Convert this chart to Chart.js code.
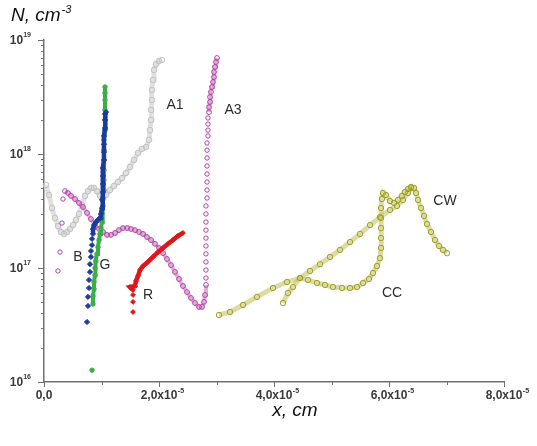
<!DOCTYPE html>
<html><head><meta charset="utf-8">
<script src="https://cdn.jsdelivr.net/npm/chart.js@4/dist/chart.umd.min.js"></script>
<style>html,body{margin:0;padding:0;background:#fff}canvas{display:block}</style>
</head><body>
<canvas id="c" width="537" height="446"></canvas>
<script>
// x values in units of 1e-5 cm, N in cm^-3
const X_TICKS = [0, 2, 4, 6, 8];
const X_TICK_LABELS = ['0,0', '2,0x10', '4,0x10', '6,0x10', '8,0x10'];
const X_TICK_SUP = ['', '-5', '-5', '-5', '-5'];
const Y_TICKS = [1e16, 1e17, 1e18, 1e19];
const Y_TICK_SUP = ['16', '17', '18', '19'];

const SERIES_LABELS = ['A1', 'A3', 'B', 'G', 'R', 'CC', 'CW'];
const LABEL_X = [2.278, 3.287, 0.591, 1.061, 1.809, 6.052, 6.974];
const LABEL_N = [2.69e18, 2.43e18, 1.25e17, 1.06e17, 5.80e16, 6.04e16, 3.87e17];

const A1 = [[0.035,5.35e17],[0.087,4.37e17],[0.139,3.36e17],[0.191,2.75e17],[0.243,2.33e17],[0.296,2.07e17],[0.348,1.99e17],[0.400,2.07e17],[0.452,2.20e17],[0.504,2.38e17],[0.557,2.64e17],[0.609,2.98e17],[0.661,3.57e17],[0.713,4.29e17],[0.765,4.73e17],[0.817,5.04e17],[0.870,5.04e17],[0.922,4.73e17],[0.974,4.29e17],[1.026,4.11e17],[1.078,4.37e17],[1.148,4.83e17],[1.217,5.24e17],[1.287,5.68e17],[1.357,6.15e17],[1.426,6.81e17],[1.496,7.69e17],[1.565,8.86e17],[1.635,1.02e18],[1.704,1.11e18],[1.774,1.15e18],[1.826,1.33e18],[1.843,1.62e18],[1.861,1.99e18],[1.861,2.43e18],[1.878,2.98e18],[1.878,3.64e18],[1.896,4.46e18],[1.913,5.46e18],[1.948,6.15e18],[2.000,6.55e18],[2.052,6.68e18]];

const A3_START = [[0.243,9.42e16],[0.278,1.38e17],[0.313,2.48e17],[0.330,4.03e17]];
const A3_CURVE = [[0.365,4.73e17],[0.417,4.55e17],[0.470,4.29e17],[0.539,4.03e17],[0.609,3.72e17],[0.678,3.43e17],[0.748,3.04e17],[0.817,2.69e17],[0.887,2.38e17],[0.957,2.20e17],[1.026,2.07e17],[1.096,1.95e17],[1.165,1.95e17],[1.235,2.03e17],[1.304,2.15e17],[1.374,2.24e17],[1.443,2.24e17],[1.513,2.20e17],[1.583,2.15e17],[1.652,2.07e17],[1.722,1.99e17],[1.791,1.87e17],[1.861,1.76e17],[1.930,1.63e17],[2.000,1.50e17],[2.070,1.35e17],[2.139,1.20e17],[2.209,1.06e17],[2.278,9.23e16],[2.348,8.01e16],[2.417,6.95e16],[2.487,6.15e16],[2.557,5.46e16],[2.626,4.93e16],[2.696,4.55e16],[2.748,4.55e16],[2.783,5.04e16],[2.800,5.80e16],[2.817,7.10e16]];
const A3_RISE = [[2.817,8.17e16],[2.817,9.60e16],[2.817,1.13e17],[2.817,1.33e17],[2.817,1.56e17],[2.817,1.83e17],[2.817,2.15e17],[2.817,2.53e17],[2.817,2.98e17],[2.817,3.50e17],[2.835,4.11e17],[2.835,4.83e17],[2.835,5.68e17],[2.835,6.68e17],[2.835,7.85e17],[2.835,9.23e17],[2.835,1.08e18],[2.835,1.25e18],[2.852,1.44e18],[2.852,1.62e18],[2.852,1.83e18],[2.852,2.07e18]];
const A3_TOP = [[2.870,2.33e18],[2.870,2.58e18],[2.887,2.86e18],[2.887,3.16e18],[2.904,3.50e18],[2.922,3.87e18],[2.939,4.28e18],[2.957,4.73e18],[2.957,5.24e18],[2.974,5.80e18],[2.991,6.41e18],[3.009,6.95e18]];

const B_LOW = [[0.748,3.36e16],[0.765,4.64e16],[0.765,5.58e16],[0.783,6.68e16],[0.783,7.85e16],[0.800,9.23e16],[0.800,1.08e17],[0.817,1.25e17],[0.817,1.41e17],[0.835,1.59e17],[0.835,1.80e17]];
const B_COL = [[0.852,1.99e17],[0.852,2.20e17],[0.870,2.38e17],[0.904,2.53e17],[0.939,2.64e17],[0.974,2.75e17],[0.991,2.98e17],[1.009,3.36e17],[1.009,3.95e17],[1.026,4.64e17],[1.026,5.46e17],[1.026,6.41e17],[1.026,7.54e17],[1.043,8.86e17],[1.043,1.04e18],[1.043,1.22e18],[1.043,1.44e18],[1.061,1.69e18],[1.061,1.99e18],[1.061,2.24e18],[1.078,2.33e18]];

const G_DOT = [[0.835,1.27e16]];
const G_COL = [[0.852,4.83e16],[0.852,5.68e16],[0.870,6.55e16],[0.870,7.54e16],[0.887,8.68e16],[0.887,1.00e17],[0.904,1.15e17],[0.922,1.33e17],[0.939,1.53e17],[0.957,1.76e17],[0.974,1.99e17],[0.991,2.24e17],[1.009,2.53e17],[1.009,2.98e17],[1.026,3.50e17],[1.026,4.11e17],[1.043,4.83e17],[1.043,5.92e17],[1.043,7.24e17],[1.043,8.86e17],[1.043,1.08e18],[1.043,1.33e18],[1.061,1.62e18],[1.061,1.99e18],[1.061,2.43e18],[1.061,2.98e18],[1.061,3.43e18],[1.061,3.87e18]];

const R_LOW = [[1.548,4.11e16],[1.548,5.04e16],[1.548,5.80e16]];
const R_CURVE = [[1.548,6.41e16],[1.496,6.81e16],[1.583,6.95e16],[1.600,7.69e16],[1.635,8.51e16],[1.670,9.60e16],[1.722,1.04e17],[1.791,1.11e17],[1.843,1.18e17],[1.896,1.25e17],[1.983,1.38e17],[2.070,1.50e17],[2.157,1.63e17],[2.243,1.76e17],[2.330,1.91e17],[2.417,2.03e17]];

const CC = [[3.043,3.87e16],[3.235,4.11e16],[3.461,4.74e16],[3.704,5.58e16],[3.983,6.68e16],[4.226,7.54e16],[4.452,8.17e16],[4.591,7.85e16],[4.748,7.38e16],[4.887,7.10e16],[5.026,6.81e16],[5.183,6.68e16],[5.322,6.68e16],[5.443,6.81e16],[5.548,7.38e16],[5.652,8.01e16],[5.722,9.04e16],[5.791,1.04e17],[5.843,1.22e17],[5.861,1.50e17],[5.861,1.83e17],[5.861,2.24e17],[5.861,2.75e17],[5.861,3.36e17],[5.878,4.03e17],[5.896,4.55e17],[5.948,4.37e17],[6.017,3.87e17],[6.087,3.72e17],[6.157,3.95e17],[6.226,4.29e17],[6.278,4.64e17],[6.330,4.93e17],[6.383,5.14e17],[6.435,5.04e17],[6.470,4.55e17],[6.504,3.95e17],[6.557,3.36e17],[6.609,2.86e17],[6.661,2.43e17],[6.730,2.07e17],[6.800,1.76e17],[6.870,1.56e17],[6.939,1.44e17],[7.009,1.35e17]];
const CW = [[4.157,4.93e16],[4.243,6.04e16],[4.330,6.81e16],[4.452,8.17e16],[4.626,9.42e16],[4.800,1.08e17],[4.974,1.25e17],[5.148,1.44e17],[5.322,1.69e17],[5.496,1.99e17],[5.670,2.38e17],[5.843,2.80e17],[6.017,3.23e17],[6.139,3.50e17],[6.243,3.95e17],[6.330,4.55e17],[6.383,5.04e17]];

const pts = a => a.map(p => ({x: p[0], y: p[1]}));

function ds(data, o) {
  return Object.assign({
    data: pts(data), showLine: false, tension: 0, borderWidth: 0,
    pointBorderWidth: 1, pointHoverRadius: 0, clip: false
  }, o);
}
const GRAY = '#c2c2c2', MAG = '#b440a8', BLUE = '#1b3c9b', GREEN = '#3cae48', RED = '#e0161a', OLIVE = '#a0a024';
const hollow = (c, r) => ({pointStyle: 'circle', pointRadius: r, pointBorderColor: c, pointBackgroundColor: 'rgba(255,255,255,0)'});
const filled = (c, r, s) => ({pointStyle: s || 'circle', pointRadius: r, pointBorderColor: c, pointBackgroundColor: c});

const datasets = [
  ds(B_COL, Object.assign(filled(BLUE, 2.6, 'rectRot'), {showLine: true, borderWidth: 4.5, borderColor: BLUE, order: 0})),
  ds(B_LOW, Object.assign(filled(BLUE, 2.6, 'rectRot'), {order: 0})),
  ds(R_CURVE, Object.assign(filled(RED, 2.4, 'rectRot'), {showLine: true, borderWidth: 4.5, borderColor: RED, order: 1})),
  ds(R_LOW, Object.assign(filled(RED, 2.4, 'rectRot'), {order: 1})),
  ds(G_COL, Object.assign(filled(GREEN, 2.2), {showLine: true, borderWidth: 4, borderColor: GREEN, order: 2})),
  ds(G_DOT, Object.assign(filled(GREEN, 2.2), {order: 2})),
  ds(A3_CURVE, Object.assign(hollow(MAG, 2.4), {showLine: true, borderWidth: 4, borderColor: 'rgba(196,110,186,0.55)', order: 3})),
  ds(A3_TOP, Object.assign(hollow(MAG, 2.4), {showLine: true, borderWidth: 4, borderColor: 'rgba(196,110,186,0.55)', order: 3})),
  ds(A3_START, Object.assign(hollow(MAG, 2.2), {order: 3})),
  ds(A3_RISE, Object.assign(hollow(MAG, 2.2), {order: 3})),
  ds(A1, Object.assign(hollow(GRAY, 2.8), {showLine: true, borderWidth: 5, borderColor: '#e0e0e0', order: 4})),
  ds(CC, Object.assign(hollow(OLIVE, 2.7), {showLine: true, borderWidth: 5, borderColor: 'rgba(190,190,90,0.55)', order: 5})),
  ds(CW, Object.assign(hollow(OLIVE, 2.7), {showLine: true, borderWidth: 5, borderColor: 'rgba(190,190,90,0.55)', order: 5}))
];

const deco = {
  id: 'deco',
  beforeDraw(chart) {
    const c = chart.ctx; c.save(); c.fillStyle = '#fff'; c.fillRect(0, 0, chart.width, chart.height); c.restore();
  },
  afterDraw(chart) {
    const c = chart.ctx, x = chart.scales.x, y = chart.scales.y, a = chart.chartArea;
    c.save();
    c.strokeStyle = '#707070'; c.lineWidth = 1;
    const line = (x1, y1, x2, y2) => { c.beginPath(); c.moveTo(x1, y1); c.lineTo(x2, y2); c.stroke(); };
    for (let i = 0; i < Y_TICKS.length; i++) {
      const d = Y_TICKS[i];
      const py0 = Math.round(y.getPixelForValue(d)) + 0.5;
      line(a.left - 6, py0, a.left, py0);
      if (i < Y_TICKS.length - 1) for (let m = 2; m < 10; m++) {
        const py = Math.round(y.getPixelForValue(m * d)) + 0.5;
        line(a.left - 3, py, a.left, py);
      }
    }
    for (let i = 0; i < X_TICKS.length; i++) {
      const px = Math.round(x.getPixelForValue(X_TICKS[i])) + 0.5;
      line(px, a.bottom, px, a.bottom + 5);
      if (i < X_TICKS.length - 1) {
        const pm = Math.round(x.getPixelForValue((X_TICKS[i] + X_TICKS[i + 1]) / 2)) + 0.5;
        line(pm, a.bottom, pm, a.bottom + 3);
      }
    }
    c.fillStyle = '#3a3a3a'; c.textBaseline = 'middle';
    for (let i = 0; i < Y_TICKS.length; i++) {
      const py = y.getPixelForValue(Y_TICKS[i]);
      c.font = 'bold 7px "Liberation Sans", Arial, sans-serif';
      const ws = c.measureText(Y_TICK_SUP[i]).width;
      c.font = 'bold 12px "Liberation Sans", Arial, sans-serif';
      const wb = c.measureText('10').width;
      const right = a.left - 13;
      c.textAlign = 'left';
      c.fillText('10', right - ws - wb, py + 1);
      c.font = 'bold 7px "Liberation Sans", Arial, sans-serif';
      c.fillText(Y_TICK_SUP[i], right - ws, py - 5);
    }
    for (let i = 0; i < X_TICKS.length; i++) {
      const px = x.getPixelForValue(X_TICKS[i]);
      c.font = 'bold 12px "Liberation Sans", Arial, sans-serif';
      const wb = c.measureText(X_TICK_LABELS[i]).width;
      c.textAlign = 'left';
      c.fillText(X_TICK_LABELS[i], px - wb / 2, a.bottom + 14);
      if (X_TICK_SUP[i]) {
        c.font = 'bold 7px "Liberation Sans", Arial, sans-serif';
        c.fillText(X_TICK_SUP[i], px + wb / 2 + 0.5, a.bottom + 9);
      }
    }
    c.fillStyle = '#111'; c.textBaseline = 'alphabetic'; c.textAlign = 'left';
    c.font = 'italic 19px "Liberation Sans", Arial, sans-serif';
    c.fillText('N, cm', 11, 21);
    let w = c.measureText('N, cm').width;
    c.font = 'italic 11px "Liberation Sans", Arial, sans-serif';
    c.fillText('-3', 11 + w + 1, 13);
    c.font = 'italic 19px "Liberation Sans", Arial, sans-serif';
    w = c.measureText('x, cm').width;
    c.fillText('x, cm', 295 - w / 2, 416);
    c.fillStyle = '#2c2c2c'; c.font = '14px "Liberation Sans", Arial, sans-serif';
    c.textAlign = 'center'; c.textBaseline = 'middle';
    for (let i = 0; i < SERIES_LABELS.length; i++) {
      c.fillText(SERIES_LABELS[i], x.getPixelForValue(LABEL_X[i]), y.getPixelForValue(LABEL_N[i]));
    }
    c.restore();
  }
};

new Chart(document.getElementById('c'), {
  type: 'scatter',
  data: {datasets},
  options: {
    responsive: false, animation: false, devicePixelRatio: 1,
    layout: {padding: {top: 40, right: 33, left: 0, bottom: 0}},
    plugins: {legend: {display: false}, tooltip: {enabled: false}},
    events: [],
    scales: {
      x: {
        type: 'linear', min: 0, max: 8, position: 'bottom',
        ticks: {display: false}, grid: {display: false},
        border: {display: true, color: '#707070', width: 1.5},
        afterFit: s => { s.height = 64; }
      },
      y: {
        type: 'logarithmic', min: 1e16, max: 1e19, position: 'left',
        ticks: {display: false}, grid: {display: false},
        border: {display: true, color: '#707070', width: 1.5},
        afterFit: s => { s.width = 44; }
      }
    }
  },
  plugins: [deco]
});
</script>
</body></html>
